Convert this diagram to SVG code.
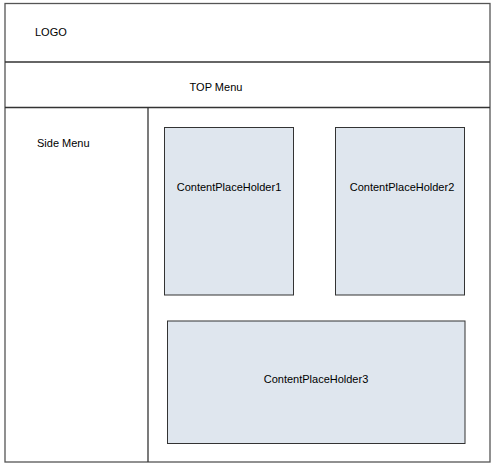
<svg xmlns="http://www.w3.org/2000/svg" width="497" height="472" viewBox="0 0 497 472">
<style>
text{font-family:"Liberation Sans",Arial,sans-serif;font-size:11px;fill:#000}
.frame{fill:#fff;stroke:#555;stroke-width:1.3}
.line{stroke:#333;stroke-width:1.3;fill:none}
.ph{fill:#dfe6ee;stroke:#333;stroke-width:1}
</style>
<rect width="497" height="472" fill="#fff"/>
<g id="frame">
<rect class="frame" x="5" y="3.5" width="485" height="458.5"/>
</g>
<g id="connectors">
<line class="line" x1="5" y1="62" x2="490" y2="62"/>
<line class="line" x1="5" y1="107.5" x2="490" y2="107.5"/>
<line class="line" x1="148" y1="107.5" x2="148" y2="462"/>
</g>
<g id="logo"><text x="35" y="36">LOGO</text></g>
<g id="topmenu"><text x="216" y="91" text-anchor="middle">TOP Menu</text></g>
<g id="sidemenu"><text x="37" y="147">Side Menu</text></g>
<g id="cph1"><rect class="ph" x="164.5" y="127.5" width="129" height="167.5"/><text x="229" y="191" text-anchor="middle">ContentPlaceHolder1</text></g>
<g id="cph2"><rect class="ph" x="335.5" y="127.5" width="129" height="167.5"/><text x="402" y="191" text-anchor="middle">ContentPlaceHolder2</text></g>
<g id="cph3"><rect class="ph" x="167.5" y="321" width="297.5" height="122.5"/><text x="316" y="383" text-anchor="middle">ContentPlaceHolder3</text></g>
</svg>
